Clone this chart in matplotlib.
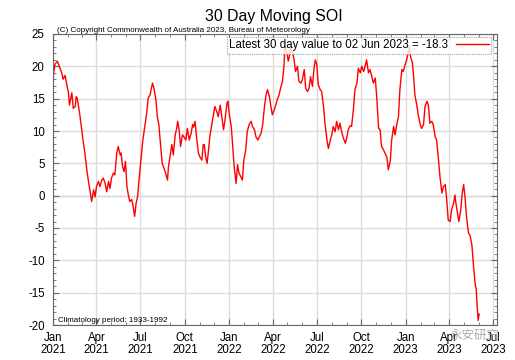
import numpy as np
import matplotlib
matplotlib.use('Agg')
import matplotlib.pyplot as plt
import matplotlib.dates as mdates

plt.rcParams['font.family'] = ['Liberation Sans', 'DejaVu Sans']
plt.rcParams['axes.unicode_minus'] = False

# days since 1 Jan 2021
DAY = np.array([
    0, 2, 4, 9, 13, 18, 21, 25, 28, 32, 34, 37, 39, 42, 46, 48, 50, 55, 59,
    63, 66, 70, 73, 77, 80, 84, 87, 90, 94, 97, 101, 104, 108, 111, 115, 118,
    121, 125, 128, 132, 135, 139, 141, 144, 147, 150, 153, 156, 159, 163,
    166, 169, 172, 175, 178, 182, 186, 190, 194, 197, 201, 203, 206, 209,
    213, 216, 219, 223, 226, 230, 233, 237, 239, 242, 246, 249, 253, 256,
    258, 261, 264, 268, 271, 275, 278, 282, 286, 289, 291, 294, 297, 301,
    304, 308, 311, 313, 316, 319, 322, 325, 329, 332, 335, 339, 342, 346,
    349, 353, 356, 360, 362, 365, 369, 372, 375, 379, 382, 385, 389, 392,
    395, 399, 402, 406, 410, 413, 417, 420, 424, 427, 431, 434, 438, 441,
    444, 448, 451, 454, 458, 461, 464, 468, 471, 475, 478, 480, 484, 487,
    489, 492, 496, 499, 502, 506, 509, 513, 516, 520, 523, 527, 530, 533,
    537, 540, 543, 546, 549, 553, 556, 560, 563, 567, 570, 574, 577, 580,
    584, 587, 591, 594, 598, 601, 605, 608, 611, 615, 618, 622, 625, 629,
    632, 636, 639, 643, 646, 649, 653, 656, 660, 663, 667, 670, 674, 677,
    680, 684, 687, 691, 694, 698, 701, 705, 708, 712, 715, 718, 722, 725,
    729, 732, 736, 738, 740, 744, 747, 749, 753, 756, 760, 763, 767, 770,
    774, 777, 780, 784, 787, 791, 794, 798, 801, 805, 808, 812, 815, 818,
    822, 825, 829, 832, 834, 838, 840, 844, 847, 850, 853, 856, 860, 863,
    867, 870, 874, 876, 878, 880, 882])

SOI = np.array([
    18.0, 19.3, 20.3, 20.8, 20.0, 19.0, 18.0, 18.6, 17.4, 15.9, 14.0, 15.1,
    15.9, 13.5, 13.8, 15.3, 15.1, 12.8, 10.4, 8.1, 6.6, 4.0, 2.4, 0.5, -0.9,
    0.9, -0.2, 1.4, 2.2, 1.4, 2.4, 2.7, 1.9, 0.6, 2.2, 1.1, 2.7, 3.5, 3.2,
    6.6, 7.6, 6.3, 6.6, 4.5, 3.7, 5.3, 1.4, 0.1, -0.9, -0.6, -1.7, -3.2,
    -1.2, -0.2, 2.4, 5.5, 8.6, 10.7, 12.8, 15.1, 15.6, 16.4, 17.4, 16.6,
    14.8, 12.2, 11.0, 7.6, 5.0, 4.2, 3.5, 2.4, 4.5, 6.0, 7.9, 6.3, 9.4, 10.4,
    11.5, 10.2, 7.6, 9.4, 9.1, 8.6, 10.4, 8.6, 9.7, 11.0, 10.6, 11.5, 9.1,
    6.6, 6.0, 5.5, 7.9, 7.9, 6.0, 5.0, 7.1, 9.4, 11.2, 12.5, 13.8, 13.0,
    12.2, 14.0, 12.5, 10.2, 11.7, 14.3, 14.6, 12.5, 10.7, 7.6, 4.5, 1.9,
    4.8, 3.5, 2.9, 2.4, 5.5, 7.1, 9.9, 11.0, 11.5, 10.7, 10.2, 9.1, 8.6, 9.1,
    9.7, 11.0, 14.0, 15.6, 16.4, 15.3, 13.8, 12.5, 13.3, 14.0, 14.8, 15.6,
    16.6, 17.7, 20.0, 23.1, 22.1, 20.8, 21.5, 22.8, 22.1, 21.0, 19.2, 20.0,
    17.7, 17.4, 17.9, 19.5, 16.6, 16.1, 16.6, 18.4, 16.9, 19.5, 21.0, 20.3,
    17.2, 16.4, 16.1, 13.8, 11.2, 8.6, 7.3, 8.6, 9.4, 10.7, 9.9, 11.5, 10.2,
    11.2, 9.7, 8.9, 8.1, 8.9, 10.2, 10.8, 10.7, 13.5, 16.4, 17.4, 19.7, 19.0,
    20.0, 19.2, 20.0, 21.0, 19.0, 19.5, 18.4, 17.4, 18.2, 15.3, 10.4, 10.2,
    7.6, 7.1, 6.6, 6.0, 4.0, 5.3, 8.6, 10.7, 9.4, 11.2, 12.2, 16.4, 19.5,
    19.2, 20.3, 21.0, 22.3, 23.1, 21.5, 20.5, 17.9, 15.6, 14.0, 12.5, 11.0,
    10.4, 11.0, 13.8, 14.6, 14.0, 11.2, 11.5, 11.0, 9.1, 8.6, 5.5, 2.9, 0.4,
    1.4, 1.7, -0.7, -3.8, -4.0, -2.2, -1.2, 0.1, -1.2, -3.0, -4.0, -2.2, 0.4,
    1.7, -0.4, -3.3, -5.8, -6.1, -7.6, -10.5, -13.8, -14.4, -17.2, -19.3,
    -18.3])

DATES = np.datetime64('2021-01-01') + DAY.astype('timedelta64[D]')
LEGEND_TEXT = 'Latest 30 day value to 02 Jun 2023 = -18.3'

fig = plt.figure(figsize=(5.15, 3.6), dpi=100)
ax = fig.add_axes([53 / 515, 1 - 325 / 360, 444 / 515, 291 / 360])

ax.plot(DATES, SOI, color='#ff0000', lw=1.0, label=LEGEND_TEXT)
ax.axhline(0, color='#8c8c8c', lw=1.0, ls=(0, (1, 1)), zorder=1)

ax.set_xlim(np.datetime64('2021-01-01'), np.datetime64('2023-07-09'))
ax.set_ylim(-20, 25)
ax.set_yticks(np.arange(-20, 26, 5))
ax.yaxis.set_minor_locator(matplotlib.ticker.MultipleLocator(1))
ax.xaxis.set_major_locator(mdates.MonthLocator(bymonth=[1, 4, 7, 10]))
ax.xaxis.set_major_formatter(mdates.DateFormatter('%b\n%Y'))
ax.xaxis.set_minor_locator(mdates.MonthLocator())

ax.grid(True, which='major', color='#dcdcdc', lw=1.0, zorder=0)
ax.tick_params(which='both', direction='in', top=True, right=True,
               colors='#666666', labelcolor='black')
ax.tick_params(which='major', length=4, width=0.8)
ax.tick_params(which='minor', length=2, width=0.6)
ax.tick_params(axis='y', labelsize=8.3, pad=6)
ax.tick_params(axis='x', labelsize=8.3, pad=5)
for label in ax.get_xticklabels():
    label.set_linespacing(1.0)
for spine in ax.spines.values():
    spine.set_color('#666666')
    spine.set_linewidth(0.8)

leg = ax.legend(loc='upper right', bbox_to_anchor=(491 / 515, 1 - 37 / 360),
                bbox_transform=fig.transFigure, fontsize=8.3,
                markerfirst=False, handlelength=2.8, fancybox=False,
                borderpad=0.2, borderaxespad=0, handletextpad=0.7)
leg.get_frame().set_edgecolor('#888888')
leg.get_frame().set_linestyle((0, (1, 1)))
leg.get_frame().set_linewidth(0.8)

fig.text(274 / 515, 1 - 17 / 360, '30 Day Moving SOI', ha='center',
         va='center', fontsize=11.4)
fig.text(57 / 515, 1 - 32 / 360,
         '(C) Copyright Commonwealth of Australia 2023, Bureau of Meteorology',
         ha='left', va='baseline', fontsize=5.8)
fig.text(58 / 515, 1 - 322 / 360, 'Climatology period: 1933-1992',
         ha='left', va='baseline', fontsize=5.75)
fig.text(475 / 515, 1 - 335 / 360, '永安研究', ha='center', va='center',
         fontsize=9, color='#9a9a9a', alpha=0.8,
         family=['Noto Sans CJK SC', 'DejaVu Sans'])

fig.savefig('out.png', dpi=100)
